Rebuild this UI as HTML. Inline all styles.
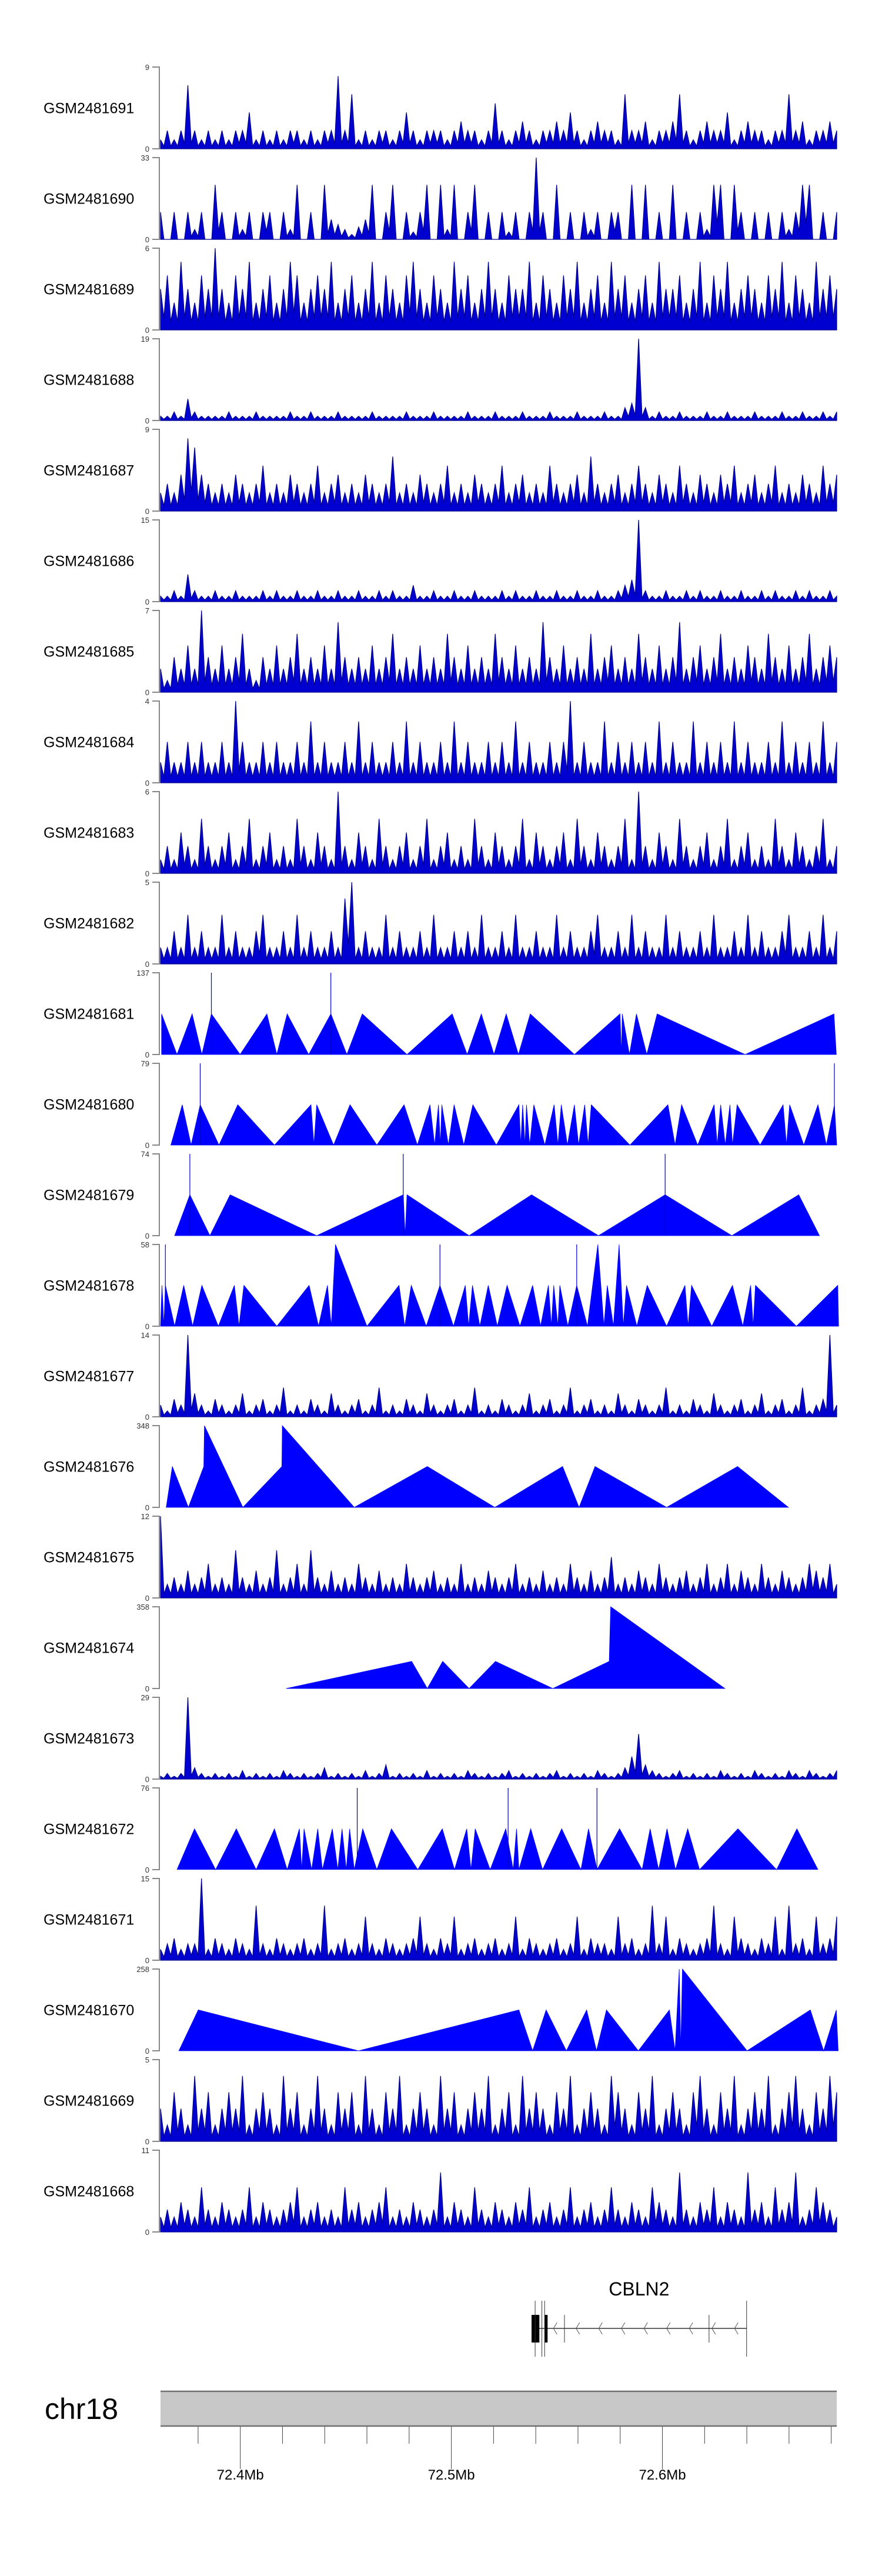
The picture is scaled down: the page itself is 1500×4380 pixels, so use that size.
<!DOCTYPE html>
<html><head><meta charset="utf-8"><title>GSM tracks chr18</title>
<style>html,body{margin:0;padding:0;background:#fff;}svg{display:block;}</style></head>
<body>
<svg id="chart" xmlns="http://www.w3.org/2000/svg" width="1500" height="4380" viewBox="0 0 1500 4380"></svg>
<script>
// ---------- data ----------
const sampleNames = ["GSM2481691","GSM2481690","GSM2481689","GSM2481688","GSM2481687","GSM2481686","GSM2481685","GSM2481684","GSM2481683","GSM2481682","GSM2481681","GSM2481680","GSM2481679","GSM2481678","GSM2481677","GSM2481676","GSM2481675","GSM2481674","GSM2481673","GSM2481672","GSM2481671","GSM2481670","GSM2481669","GSM2481668"];
const yMax = [9,33,6,19,9,15,7,4,6,5,137,79,74,58,14,348,12,358,29,76,15,258,5,11];
const windowStartKb = 72356;
const domainKb = [6.2, 326.6];
const axisTicksKb = [72380,72400,72420,72440,72460,72480,72500,72520,72540,72560,72580,72600,72620,72640,72660,72680];
const axisLabelsKb = [72400,72500,72600];
const axisLabels = ["72.4Mb","72.5Mb","72.6Mb"];

const s691=[1,2,1,2,7,2,1,2,1,2,1,2,2,4,1,2,1,2,1,2,2,1,2,1,2,2,8,2,6,1,2,1,2,2,1,2,4,2,1,2,2,2,1,2,3,2,2,1,2,5,2,1,2,3,2,1,2,2,3,2,4,2,1,2,3,2,2,1,6,2,2,3,1,2,2,3,6,2,1,2,3,2,2,4,1,2,3,2,2,1,2,2,6,2,3,1,2,2,3,2];
const s690=[11,0,11,0,11,4,11,0,22,11,0,11,4,11,0,11,11,0,11,4,22,0,11,0,22,8,6,4,2,5,8,22,0,11,22,0,11,3,11,22,0,22,4,22,0,11,22,0,11,0,11,3,11,0,11,33,11,0,22,0,11,0,11,4,11,0,11,11,0,22,0,22,0,11,0,22,0,11,0,11,4,22,22,0,22,11,0,11,0,11,0,11,4,11,22,22,0,11,0,11];
const s689=[3,4,2,5,3,2,4,3,6,3,2,4,3,5,2,3,4,2,3,5,4,2,3,4,3,5,2,3,4,2,3,5,2,4,3,2,4,5,3,2,4,3,2,5,3,4,2,3,5,3,2,4,3,3,5,2,4,3,2,4,3,5,2,3,4,2,5,3,4,2,3,4,2,5,3,3,4,2,3,5,2,4,3,5,2,3,4,3,2,4,3,5,2,4,3,2,5,3,4,3];
const s688=[1,1,2,1,5,2,1,1,1,1,2,1,1,1,2,1,1,1,1,2,1,1,2,1,1,1,2,1,1,1,1,2,1,1,1,1,2,1,1,1,2,1,1,1,1,2,1,1,1,2,1,1,1,2,1,1,1,2,1,1,1,2,1,1,1,2,1,1,3,4,19,3,1,2,1,1,2,1,1,1,2,1,1,2,1,1,1,2,1,1,1,2,1,1,2,1,1,2,1,2];
const s687=[2,3,2,4,8,7,4,3,2,3,2,4,3,2,3,5,2,3,2,4,3,2,3,5,2,3,4,2,3,2,4,3,2,3,6,2,3,2,4,3,2,3,5,2,3,2,4,3,2,3,5,2,3,4,2,3,2,5,3,2,3,4,2,6,3,2,3,4,2,3,5,3,2,4,3,2,5,3,2,4,3,2,4,3,5,2,3,4,2,3,5,2,3,2,4,3,2,5,3,4];
const s686=[1,1,2,1,5,2,1,1,2,1,1,2,1,1,1,2,1,2,1,1,2,1,1,2,1,1,2,1,1,2,1,1,2,1,2,1,1,3,1,1,2,1,1,2,1,1,2,1,1,1,2,1,2,1,1,2,1,1,2,1,1,2,1,1,2,1,1,2,3,4,15,2,1,1,2,1,1,2,1,2,1,1,2,1,1,2,1,1,2,1,2,1,1,2,1,2,1,1,2,1];
const s685=[2,1,3,2,4,2,7,3,2,4,2,3,5,2,1,3,2,4,2,3,5,2,3,2,4,2,6,3,2,3,2,4,2,3,5,2,3,2,4,2,3,2,5,3,2,4,2,3,2,5,3,2,4,2,3,2,6,3,2,4,2,3,2,5,2,3,4,2,3,2,5,3,2,4,2,3,6,2,3,4,2,3,5,2,3,2,4,3,2,5,3,2,4,2,3,5,2,3,4,3];
const s684=[1,2,1,1,2,1,2,1,1,2,1,4,2,1,1,2,1,2,1,1,2,1,3,1,2,1,1,2,1,3,1,2,1,1,2,1,3,1,2,1,1,2,1,3,1,2,1,1,2,1,2,1,3,1,2,1,1,2,1,2,4,1,2,1,1,3,1,2,1,2,1,2,1,3,1,2,1,1,3,1,2,1,2,1,3,1,2,1,1,2,1,3,1,2,1,2,1,3,1,2];
const s683=[1,2,1,3,2,1,4,2,1,2,3,1,2,4,1,2,3,1,2,1,4,2,1,3,2,1,6,2,1,3,2,1,4,2,1,2,3,1,2,4,1,2,3,1,2,1,4,2,1,3,2,1,2,4,1,3,2,1,2,3,1,4,2,1,3,2,1,2,4,1,6,2,1,3,2,1,4,2,1,2,3,1,2,4,1,2,3,1,2,1,4,2,1,3,2,1,2,4,1,2];
const s682=[1,1,2,1,3,1,2,1,1,3,1,2,1,1,2,3,1,1,2,1,3,1,2,1,1,2,1,4,5,1,2,1,1,3,1,2,1,1,2,1,3,1,1,2,1,2,1,3,1,1,2,1,3,1,1,2,1,1,3,1,2,1,1,2,3,1,1,2,1,3,1,2,1,1,3,1,2,1,1,2,1,3,1,1,2,1,3,1,2,1,1,2,3,1,1,2,1,3,1,2];
const s677=[2,1,3,2,14,4,2,1,3,2,1,2,4,1,2,3,1,2,5,1,2,1,3,2,1,4,2,1,2,3,1,2,5,1,2,1,3,2,1,4,2,1,2,3,1,2,5,1,2,1,3,2,1,2,4,1,2,3,1,2,5,1,2,3,1,2,1,4,2,1,3,2,1,2,5,1,2,1,3,2,1,4,2,1,2,3,1,2,4,1,2,3,1,2,5,1,2,3,14,2];
const s675=[12,2,3,2,4,2,3,5,2,3,2,7,3,2,4,2,3,7,2,3,5,2,7,3,2,4,2,3,2,5,3,2,4,2,3,2,5,3,2,3,4,2,3,2,5,2,3,2,4,3,2,3,5,2,3,2,4,2,3,2,5,3,2,4,2,3,6,2,3,2,4,3,2,5,3,2,3,4,2,3,5,2,3,5,2,4,3,2,5,3,2,4,3,2,3,5,4,3,5,2];
const s673=[1,2,1,2,29,4,2,1,2,1,2,1,3,1,2,1,2,1,3,2,1,2,1,2,4,1,2,1,2,1,3,1,2,5,1,2,1,2,1,3,1,2,1,2,1,3,2,1,2,1,2,3,1,2,1,2,1,2,3,1,2,1,2,1,3,2,1,2,4,8,16,5,3,2,1,2,3,1,2,1,2,1,3,2,1,2,1,3,2,1,2,1,3,2,1,3,2,1,2,3];
const s671=[2,3,4,2,3,3,15,2,4,3,2,4,3,2,10,3,2,4,3,2,3,4,2,3,10,2,3,4,2,3,8,3,2,4,3,2,3,4,8,3,2,4,3,8,2,3,4,2,3,4,2,3,8,2,4,3,2,3,4,2,3,8,2,4,3,3,2,8,3,4,2,3,10,3,8,2,4,3,2,3,4,10,3,2,8,4,3,2,4,3,8,2,10,3,4,2,8,3,4,8];
const s669=[2,1,3,2,1,4,2,3,1,2,3,2,4,1,2,3,2,1,4,2,3,1,2,4,2,1,3,2,3,1,4,2,1,3,2,4,1,2,3,2,1,4,2,3,1,2,3,2,4,1,2,3,1,4,2,3,2,1,3,2,4,1,2,3,2,1,4,3,2,1,3,2,4,1,2,3,2,1,3,4,2,1,3,2,4,1,2,3,2,4,1,2,3,4,2,1,3,2,4,3];
const s668=[2,3,2,4,3,2,6,3,2,4,3,2,3,6,2,4,3,2,3,4,6,2,3,4,2,3,2,6,3,4,2,3,4,6,2,3,2,4,3,2,3,8,2,4,3,2,6,3,2,4,3,2,4,3,6,2,3,4,2,3,6,2,3,4,2,3,6,3,2,4,3,2,6,4,3,2,8,3,2,4,3,6,2,4,3,2,8,3,4,2,6,3,4,8,2,3,6,4,3,2];

const p681=[6.7,14,21.2,25.8,30.3,43.9,56.6,61.3,66.2,76.4,86.9,94.5,101.8,123,144.4,151.5,158.2,164.2,170,175.8,181.4,202.3,223.9,224.6,225,228.4,231.7,236.6,241.5,283.2,325.3,326.4];
const v681=[68,0,68,0,68,0,68,0,68,0,68,0,68,0,68,0,68,0,68,0,68,0,68,0,68,0,68,0,68,0,68,0];
const sp681=[30.3,86.9]; const sv681=[137,137];
const p680=[11.1,16.5,20.7,25,33.9,42.8,60.2,77.5,78.9,80.2,88.2,96,108.7,121.6,127.9,133.9,136.1,137.9,138.8,139.5,142.6,145.3,149.9,154.2,165.3,176,176.9,177.8,178.9,179.6,181.1,183.1,188.3,192.7,194.5,196.1,199,202.3,204.3,207.2,208.8,210.3,228.6,246.6,250,253.1,260.7,268.5,270,271.6,273.8,276,277.2,279.4,290.3,301.2,302.8,304.3,311,317.7,321.7,325.5,326.6];
const v680=[0,39,0,39,0,39,0,39,0,39,0,39,0,39,0,39,0,39,0,39,0,39,0,39,0,39,0,39,0,39,0,39,0,39,0,39,0,39,0,39,0,39,0,39,0,39,0,39,0,39,0,39,0,39,0,39,0,39,0,39,0,39,0];
const sp680=[25,325.5]; const sv680=[79,79];
const p679=[12.9,20.1,29.6,39.2,80.2,121.2,122.1,123,152.4,182,213.7,245.3,276.9,308.6,318.4];
const v679=[0,37,0,37,0,37,0,37,0,37,0,37,0,37,0];
const sp679=[20.1,121.2,245.3]; const sv679=[74,74,74];
const p678=[6.2,6.9,7.8,8.5,12.9,17.2,21.4,25.8,33.6,41.2,43.4,45.7,61.3,76.6,81.1,85.3,87.1,89.1,104,119.2,121.9,125,132.1,138.6,145,150.6,152.2,154,157.5,161.5,165.8,170.4,176.5,182.5,186.3,190,191.4,192.5,194.5,195.4,199.2,203.4,208.5,213.4,216.3,217.9,220.8,223.5,225.5,227,231.9,236.8,246,254.7,256.2,257.8,267.4,277.2,282.1,285.8,287,288.1,307.5,327.1,327.5];
const v678=[0,29,0,29,0,29,0,29,0,29,0,29,0,29,0,29,0,58,0,29,0,29,0,29,0,29,0,29,0,29,0,29,0,29,0,29,0,29,0,29,0,29,0,58,0,29,0,58,0,29,0,29,0,29,0,29,0,29,0,29,0,29,0,29,0];
const sp678=[8.5,138.6,203.4]; const sv678=[58,58,58];
const p676=[8.9,11.8,19.4,26.7,27,45.2,63.7,63.9,98,132.6,164.6,196.7,204.5,212.1,246,279.6,303.7];
const v676=[0,174,0,174,348,0,174,348,0,174,0,174,0,174,0,174,0];
const p674=[65.7,125.2,132.6,139.9,152.4,164.9,192.1,218.8,219.5,273.6];
const v674=[0,119,0,119,0,119,0,119,358,0];
const p672=[14,22.3,32.3,42.1,51.5,60.2,66.2,72,73.1,74.2,77.8,80.7,82.9,87.6,90.2,92.2,94.2,95.8,98,102,108.7,115.6,128.1,139.7,145.5,151.3,153.3,155.3,162.4,169.8,173.3,174.9,176,181.6,187.2,196.3,205.4,209,213,223.7,234.4,238.2,242.2,246.2,250.2,256,261.6,279.8,298.1,307.7,317.7,322.8];
const v672=[0,38,0,38,0,38,0,38,0,38,0,38,0,38,0,38,0,38,0,38,0,38,0,38,0,38,0,38,0,38,0,38,0,38,0,38,0,38,0,38,0,38,0,38,0,38,0,38,0,38,0];
const sp672=[99.4,170.9,213]; const sv672=[76,76,76];
const p670=[14.9,24.1,100,176,182.5,188.9,198.5,208.1,212.8,217.5,232.6,247.3,250,252,252.7,253.5,284.1,314.1,320.4,326.4,327.3];
const v670=[0,129,0,129,0,129,0,129,0,129,0,129,0,258,0,258,0,129,0,129,0];

const geneName = "CBLN2";
const geneSpan = [182.0, 283.9];
const geneExons = [[182.0,185.7],[188.2,189.6]];
const geneTallMarks = [183.7,186.9,188.2,283.9];
const geneShortMarks = [197.6,266.1];

const tracks = [
 {type:"dense", v:s691},{type:"dense", v:s690},{type:"dense", v:s689},{type:"dense", v:s688},
 {type:"dense", v:s687},{type:"dense", v:s686},{type:"dense", v:s685},{type:"dense", v:s684},
 {type:"dense", v:s683},{type:"dense", v:s682},
 {type:"tri", p:p681, v:v681, sp:sp681, sv:sv681},
 {type:"tri", p:p680, v:v680, sp:sp680, sv:sv680},
 {type:"tri", p:p679, v:v679, sp:sp679, sv:sv679},
 {type:"tri", p:p678, v:v678, sp:sp678, sv:sv678},
 {type:"dense", v:s677},
 {type:"tri", p:p676, v:v676, sp:[], sv:[]},
 {type:"dense", v:s675},
 {type:"tri", p:p674, v:v674, sp:[], sv:[]},
 {type:"dense", v:s673},
 {type:"tri", p:p672, v:v672, sp:sp672, sv:sv672},
 {type:"dense", v:s671},
 {type:"tri", p:p670, v:v670, sp:[], sv:[]},
 {type:"dense", v:s669},{type:"dense", v:s668}
];

const NS="http://www.w3.org/2000/svg";
const svg=document.getElementById('chart');
const X0=273, X1=1423, TOP0=114, PITCH=154, TH=139;
function xScale(k){return X0+(k-domainKb[0])/(domainKb[1]-domainKb[0])*(X1-X0);}
function mk(tag,attrs,parent){const e=document.createElementNS(NS,tag);for(const a in attrs)e.setAttribute(a,attrs[a]);(parent||svg).appendChild(e);return e;}

tracks.forEach((t,i)=>{
  const top=TOP0+i*PITCH, bot=top+TH, mx=yMax[i];
  const y=v=>bot-(v/mx)*TH;
  const g=mk('g',{});
  
  
  const lab=mk('text',{x:74,y:top+TH/2+9,'font-family':'Liberation Sans, sans-serif','font-size':25,fill:'#000'},g);
  lab.textContent=sampleNames[i];
  
  
  const ax=mk('path',{d:`M259 ${top}H271V${bot}H259`,fill:'none',stroke:'#888','stroke-width':2},g);
  
  
  const tmax=mk('text',{x:254,y:top+5,'text-anchor':'end','font-family':'Liberation Sans, sans-serif','font-size':13,fill:'#333'},g);
  tmax.textContent=String(mx);
  
  
  const tmin=mk('text',{x:254,y:bot+5,'text-anchor':'end','font-family':'Liberation Sans, sans-serif','font-size':13,fill:'#333'},g);
  tmin.textContent='0';
  
  
  let d;
  if(t.type==='dense'){
    const n=t.v.length;
    const step=(X1-X0)/(n-1);
    d=`M${X0} ${bot}`;
    t.v.forEach((v,j)=>{
      const xx=xScale(domainKb[0]+(domainKb[1]-domainKb[0])*j/(n-1));
      d+=`L${xx.toFixed(1)} ${y(v).toFixed(1)}`;
      if(j<n-1){
        const low=Math.min(v,t.v[j+1])*0.3;
        d+=`L${(xx+step/2).toFixed(1)} ${y(low).toFixed(1)}`;
      }
    });
    d+=`L${X1} ${bot}Z`;
    const p=mk('path',{d:d,fill:'#0000d0',stroke:'#00008b','stroke-width':1.2,'stroke-linejoin':'miter'},g);
    
    
  } else {
    d=`M${xScale(t.p[0]).toFixed(1)} ${bot}`;
    t.p.forEach((k,j)=>{d+=`L${xScale(k).toFixed(1)} ${y(t.v[j]).toFixed(1)}`;});
    d+=`L${xScale(t.p[t.p.length-1]).toFixed(1)} ${bot}Z`;
    const p=mk('path',{d:d,fill:'#0000ff',stroke:'#0000ff','stroke-width':0.8},g);
    
    
    t.sp.forEach((k,j)=>{
      const s=mk('line',{x1:xScale(k),x2:xScale(k),y1:bot,y2:y(t.sv[j]),stroke:'#0000cc','stroke-width':1.2},g);
      
      
    });
  }
});

const gg=mk('g',{});


const gy=3959;
const gl=mk('text',{x:(xScale(geneSpan[0])+xScale(geneSpan[1]))/2,y:3903,'text-anchor':'middle','font-family':'Liberation Sans, sans-serif','font-size':32,fill:'#000'},gg);
gl.textContent=geneName;


const gline=mk('line',{x1:xScale(geneSpan[0]),x2:xScale(geneSpan[1]),y1:gy,y2:gy,stroke:'#333','stroke-width':1.5},gg);


for(let xx=xScale(geneExons[1][1])+12; xx<xScale(geneSpan[1])-6; xx+=38.5){
  const c=mk('path',{d:`M${xx+4} ${gy-10}L${xx-2} ${gy}L${xx+4} ${gy+10}`,fill:'none',stroke:'#555','stroke-width':1},gg);
  
  
}
geneExons.forEach(e=>{
  const r=mk('rect',{x:xScale(e[0]),y:3936,width:xScale(e[1])-xScale(e[0]),height:47,fill:'#000'},gg);
  
  
});
geneTallMarks.forEach(k=>{
  const l=mk('line',{x1:xScale(k),x2:xScale(k),y1:3912,y2:4007,stroke:'#333','stroke-width':1},gg);
  
  
});
geneShortMarks.forEach(k=>{
  const l=mk('line',{x1:xScale(k),x2:xScale(k),y1:3936,y2:3983,stroke:'#333','stroke-width':1},gg);
  
  
});

const ag=mk('g',{});


const chrLab=mk('text',{x:76,y:4113,'font-family':'Liberation Sans, sans-serif','font-size':50,fill:'#000'},ag);
chrLab.textContent='chr18';


const bar=mk('rect',{x:273,y:4066,width:1150,height:59,fill:'#c8c8c8'},ag);


mk('line',{x1:273,x2:1423,y1:4066,y2:4066,stroke:'#707070','stroke-width':2.5},ag);
mk('line',{x1:273,x2:1423,y1:4125,y2:4125,stroke:'#707070','stroke-width':2.5},ag);
axisTicksKb.forEach(kb=>{
  const major=axisLabelsKb.indexOf(kb)>=0;
  const tx=xScale(kb-windowStartKb);
  const t=mk('line',{x1:tx,x2:tx,y1:4126,y2:major?4198:4155,stroke:'#444','stroke-width':1},ag);
  
  
});
axisLabelsKb.forEach((kb,j)=>{
  const t=mk('text',{x:xScale(kb-windowStartKb),y:4216,'text-anchor':'middle','font-family':'Liberation Sans, sans-serif','font-size':24,fill:'#000'},ag);
  t.textContent=axisLabels[j];
  
  
});
</script>
</body></html>
